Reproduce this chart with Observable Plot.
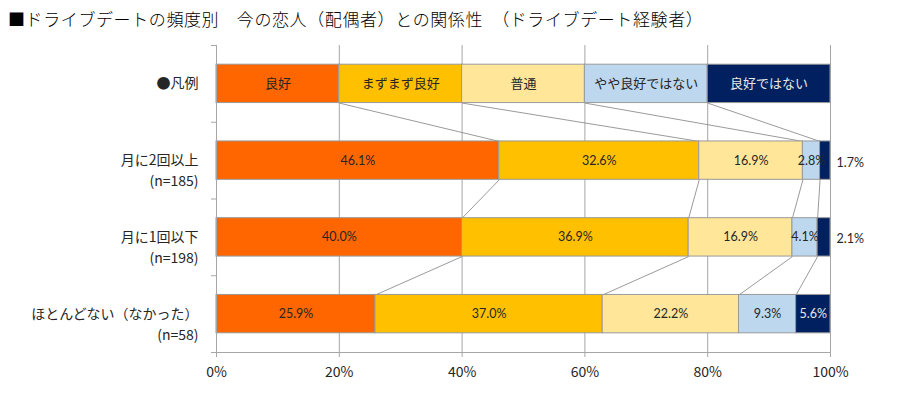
<!DOCTYPE html>
<html><head><meta charset="utf-8">
<script src="https://cdn.jsdelivr.net/npm/d3@7"></script>
<script src="https://cdn.jsdelivr.net/npm/@observablehq/plot@0.6"></script>
<style>
body{margin:0;background:#fff;}
#title{height:38px;line-height:38px;padding-left:8px;font-family:"Noto Sans CJK JP",sans-serif;font-weight:300;letter-spacing:0.6px;font-size:17px;color:#000;white-space:pre;}
</style></head><body>
<div id="title"></div>
<div id="chart"></div>
<script>
const title = "■ドライブデートの頻度別　今の恋人（配偶者）との関係性　（ドライブデート経験者）";
const legendLabel = "●凡例";
const groups = ["月に2回以上", "月に1回以下", "ほとんどない（なかった）"];
const sampleSizes = ["(n=185)", "(n=198)", "(n=58)"];
const series = ["良好", "まずまず良好", "普通", "やや良好ではない", "良好ではない"];
const colors = ["#FF6600", "#FFC000", "#FFE699", "#BDD7EE", "#002060"];
const good = [46.1, 40.0, 25.9];
const fairlyGood = [32.6, 36.9, 37.0];
const normal = [16.9, 16.9, 22.2];
const somewhatNotGood = [2.8, 4.1, 9.3];
const notGood = [1.7, 2.1, 5.6];
const xTicks = [0, 0.2, 0.4, 0.6, 0.8, 1];

document.getElementById("title").textContent = title;

const valueArrays = [good, fairlyGood, normal, somewhatNotGood, notGood];
// row 0 = legend key (equal parts), rows 1..3 = groups
const rows = [];
rows.push(series.map(() => 1));
groups.forEach((g, gi) => rows.push(valueArrays.map(a => a[gi])));

const segs = [];
rows.forEach((vals, r) => {
  const total = d3.sum(vals);
  let acc = 0;
  vals.forEach((v, k) => {
    const x1 = acc / total; acc += v; const x2 = acc / total;
    segs.push({row: r, k, s: series[k], v, x1, x2, legend: r === 0});
  });
});
const seg = (r, k) => segs.find(d => d.row === r && d.k === k);

const links = [];
for (let r = 0; r < rows.length - 1; r++) {
  for (let k = 1; k < series.length; k++) {
    links.push({x1: seg(r, k).x1, x2: seg(r + 1, k).x1, y1: r + 0.75, y2: r + 1.25});
  }
}

const isOutside = d => !d.legend && d.k === 4 && d.v < 3;
const fmt = v => v.toFixed(1) + "%";
const rowLabels = [legendLabel, ...groups].map((t, i) => ({t, i}));
const nLabels = sampleSizes.map((t, i) => ({t, i: i + 1}));
const GRID = "#a6a6a6";

const plot = Plot.plot({
  width: 921,
  height: 356,
  marginTop: 7,
  marginBottom: 42,
  marginLeft: 216,
  marginRight: 91,
  style: {fontFamily: "'Noto Sans CJK JP', sans-serif", background: "#fff"},
  x: {domain: [0, 1]},
  y: {domain: [0, 4], reverse: true},
  color: {domain: series, range: colors},
  marks: [
    Plot.ruleX(xTicks.slice(1), {y1: 0, y2: 4, stroke: GRID}),
    Plot.link(links, {x1: "x1", x2: "x2", y1: "y1", y2: "y2", stroke: "#8f8f8f", strokeWidth: 0.9}),
    Plot.rectX(segs, {x1: "x1", x2: "x2", y1: d => d.row + 0.25, y2: d => d.row + 0.75, fill: "s", stroke: "#9a9a9a", strokeWidth: 1}),
    Plot.text(segs.filter(d => d.legend), {x: d => (d.x1 + d.x2) / 2, y: d => d.row + 0.5, text: "s",
      fill: d => d.k === 4 ? "#e8e8e8" : "#262626", fontSize: 13}),
    Plot.text(segs.filter(d => !d.legend && !isOutside(d)), {x: d => (d.x1 + d.x2) / 2, y: d => d.row + 0.5, text: d => fmt(d.v),
      fill: d => d.k === 4 ? "#e8e8e8" : "#262626", fontSize: 12.5, fontFamily: "Lato, sans-serif"}),
    Plot.text(segs.filter(isOutside), {x: "x2", y: d => d.row + 0.5, text: d => fmt(d.v), dx: 6, dy: 2,
      textAnchor: "start", fill: "#262626", fontSize: 12.5, fontFamily: "Lato, sans-serif"}),
    Plot.text(rowLabels, {x: 0, y: d => d.i + 0.5, text: "t", dx: -18, textAnchor: "end", fontSize: 14, fill: "#262626"}),
    Plot.text(nLabels, {x: 0, y: d => d.i + 0.5, text: "t", dx: -18, dy: 21, textAnchor: "end", fontSize: 14, fill: "#262626"}),
    Plot.ruleX([0], {y1: 0, y2: 4, stroke: GRID}),
    Plot.ruleY([4], {x1: 0, x2: 1, stroke: GRID}),
    Plot.axisY({ticks: [0, 1, 2, 3, 4], tickSize: 5, tickFormat: () => "", stroke: GRID}),
    Plot.axisX({ticks: xTicks, tickSize: 5, tickPadding: 10, tickFormat: d3.format(".0%"), stroke: GRID, color: "#262626", fontSize: 14})
  ]
});
document.getElementById("chart").appendChild(plot);
</script>
</body></html>
